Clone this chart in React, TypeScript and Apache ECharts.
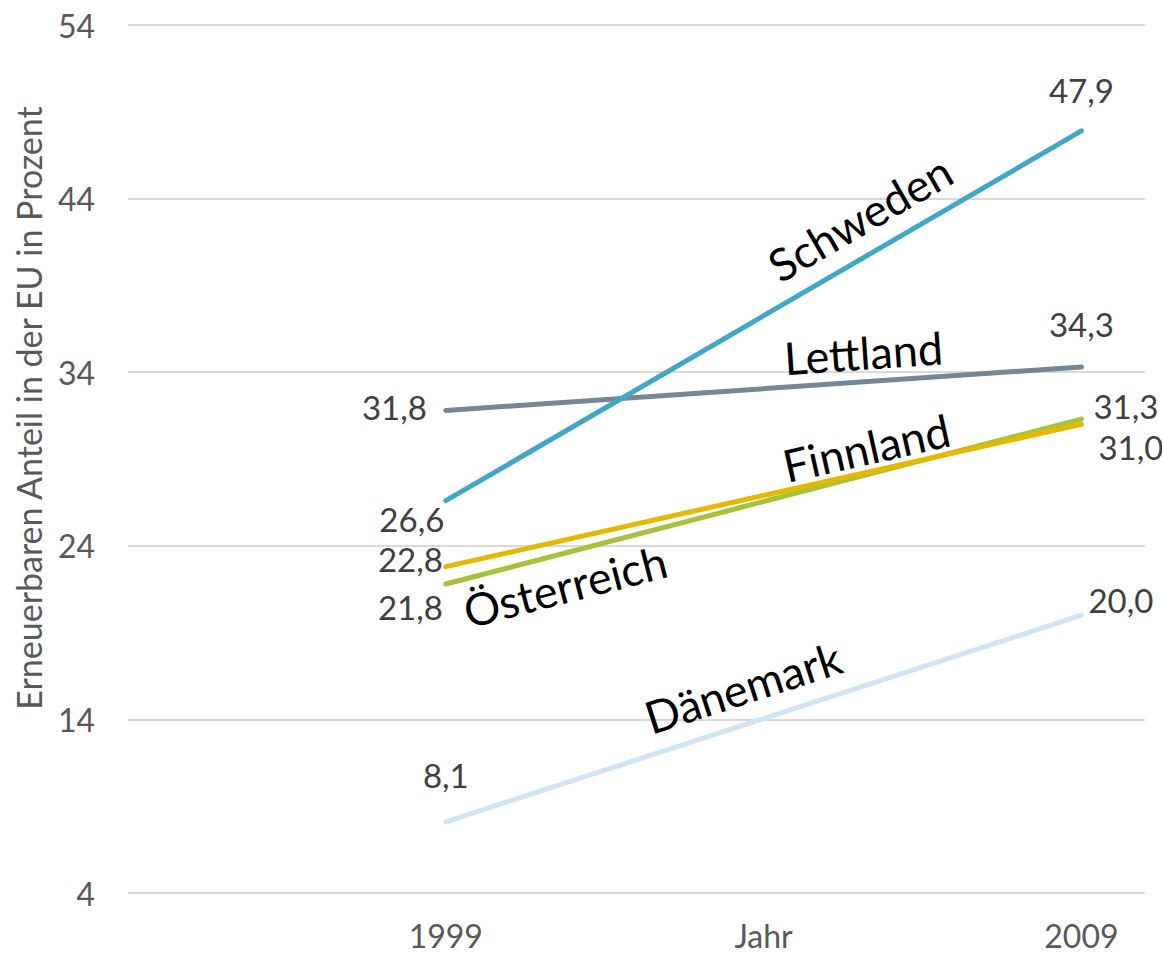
import React, { useEffect, useRef } from "react";
import * as echarts from "echarts";

const years = [1999, 2009];
const seriesNames = ["Schweden", "Lettland", "Finnland", "Österreich", "Dänemark"];
const values1999 = [26.6, 31.8, 22.8, 21.8, 8.1];
const values2009 = [47.9, 34.3, 31.0, 31.3, 20.0];
const colors = ["#41A7CA", "#758795", "#E6B800", "#A6C13A", "#CFE4F4"];
const yTicks = { min: 4, max: 54, interval: 10 };
const xLabelMap: Record<number, string> = { 1999: "1999", 2004: "Jahr", 2009: "2009" };
const yAxisTitle = "Erneuerbaren Anteil in der EU in Prozent";
// where along the line (year) each name label sits, and its side
const nameAtYear = [2005.8, 2005.6, 2005.7, 2000.75, 2003.85];
const nameOffset = [36, 29, 24, -32, 36];

const FONT = "Lato, 'Open Sans', sans-serif";

// label placements: [start, end]
const labelCfg: any[][] = [
  [{ position: "bottom", offset: [-34, -4] }, { position: "top", offset: [0, -18] }],
  [{ position: "left", distance: 17, offset: [0, -3] }, { position: "top", offset: [0, -20] }],
  [{ position: "left", offset: [4, -8] }, { position: "right", offset: [10, 23] }],
  [{ position: "left", offset: [4, 23] }, { position: "right", offset: [5, -13] }],
  [{ position: "top", offset: [0, -24] }, { position: "right", offset: [0, -15] }],
];

export default function App() {
  const ref = useRef<HTMLDivElement>(null);
  useEffect(() => {
    if (!ref.current) return;
    const chart = echarts.init(ref.current, undefined, { renderer: "svg" });
    const fmt = (v: number) => v.toFixed(1).replace(".", ",");
    const series = seriesNames.map((name, i) => ({
      name,
      type: "line",
      symbol: "circle",
      symbolSize: 4,
      showSymbol: true,
      lineStyle: { width: 5, color: colors[i], cap: "round" },
      itemStyle: { color: colors[i] },
      emphasis: { disabled: true },
      data: [values1999[i], values2009[i]].map((v, j) => ({
        value: [years[j], v],
        label: {
          show: true,
          formatter: () => fmt(v),
          color: "#404040",
          fontSize: 33,
          lineHeight: 31,
          fontFamily: FONT,
          ...labelCfg[i][j],
        },
      })),
      z: 10 - i,
    }));
    chart.setOption({
      animation: false,
      backgroundColor: "#ffffff",
      grid: { left: 128, right: 17, top: 25, bottom: 60 },
      xAxis: {
        type: "value",
        min: 1994,
        max: 2010,
        interval: 5,
        axisLine: { show: false },
        axisTick: { show: false },
        splitLine: { show: false },
        axisLabel: {
          formatter: (v: number) => xLabelMap[v] ?? "",
          color: "#595959",
          fontSize: 32,
          fontFamily: FONT,
          margin: 26,
        },
      },
      yAxis: {
        type: "value",
        min: yTicks.min,
        max: yTicks.max,
        interval: yTicks.interval,
        axisLine: { show: false },
        axisTick: { show: false },
        splitLine: { lineStyle: { color: "#D9D9D9", width: 2 } },
        axisLabel: { color: "#595959", fontSize: 32, fontFamily: FONT, margin: 33 },
      },
      series,
    });
    const toPx = (x: number, y: number) =>
      chart.convertToPixel({ xAxisIndex: 0, yAxisIndex: 0 }, [x, y]) as number[];
    const graphics: any[] = seriesNames.map((name, i) => {
      const p1 = toPx(years[0], values1999[i]);
      const p2 = toPx(years[1], values2009[i]);
      const a = Math.atan2(p2[1] - p1[1], p2[0] - p1[0]);
      const t = (nameAtYear[i] - years[0]) / (years[1] - years[0]);
      const px = p1[0] + (p2[0] - p1[0]) * t;
      const py = p1[1] + (p2[1] - p1[1]) * t;
      const d = nameOffset[i];
      return {
        type: "text",
        x: px + Math.sin(a) * d,
        y: py - Math.cos(a) * d,
        rotation: -a,
        z: 100,
        style: {
          text: name,
          fill: "#000000",
          fontSize: 45,
          fontFamily: FONT,
          textAlign: "center",
          textVerticalAlign: "middle",
        },
      };
    });
    graphics.push({
      type: "text",
      x: 28,
      y: 408,
      rotation: Math.PI / 2,
      style: {
        text: yAxisTitle,
        fill: "#595959",
        fontSize: 34,
        fontFamily: FONT,
        textAlign: "center",
        textVerticalAlign: "middle",
      },
    });
    chart.setOption({ graphic: graphics });
    return () => chart.dispose();
  }, []);
  return (
    <div
      ref={ref}
      style={{ position: "fixed", left: 0, top: 0, width: 1162, height: 953, background: "#fff" }}
    />
  );
}
